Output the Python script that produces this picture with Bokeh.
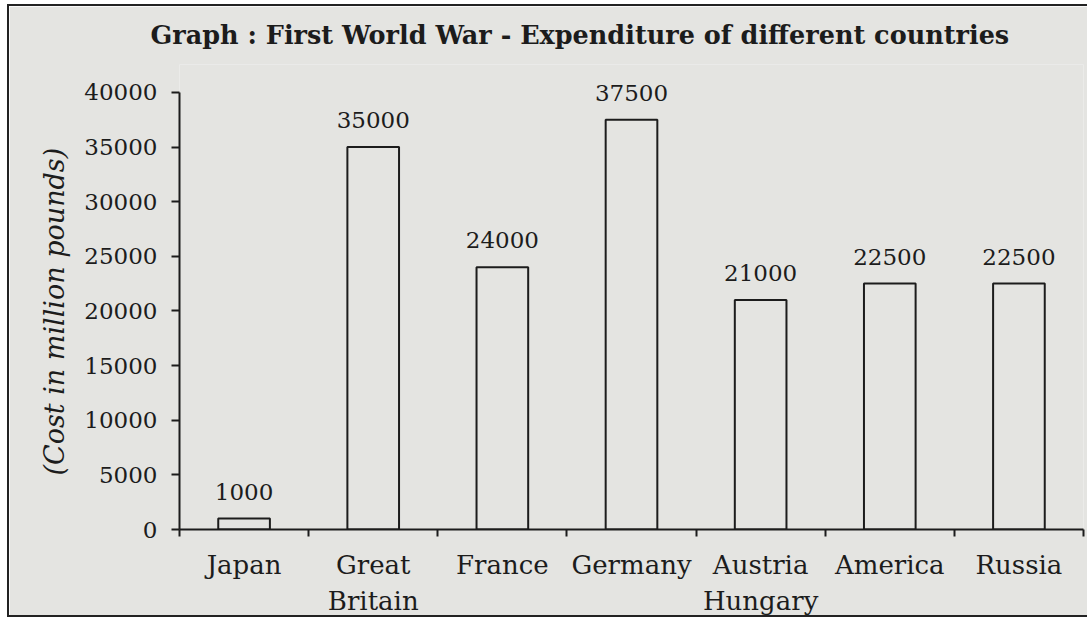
from bokeh.plotting import figure
from bokeh.models import ColumnDataSource, FixedTicker, Range1d, LabelSet, Title
from bokeh.core.properties import value
from bokeh.embed import file_html
from bokeh.resources import INLINE

countries = ["Japan", "Great\nBritain", "France", "Germany", "Austria\nHungary", "America", "Russia"]
costs = [1000, 35000, 24000, 37500, 21000, 22500, 22500]
value_labels = [str(c) for c in costs]
y_ticks = [0, 5000, 10000, 15000, 20000, 25000, 30000, 35000, 40000]
title_text = "Graph : First World War - Expenditure of different countries"
y_title = "(Cost in million pounds)"

BG = "#e4e4e1"
INK = "#1c1c1c"
FONT = "DejaVu Serif"

n = len(countries)
y_max = y_ticks[-1]
centers = [i + 0.5 for i in range(n)]
src = ColumnDataSource(dict(x=centers, top=costs, lbl=value_labels))

# frame reaches a little above 40000 so the value labels are not clipped;
# the y axis itself is bounded to 0..40000
p = figure(width=1080, height=613, output_backend="svg", toolbar_location=None,
           x_range=Range1d(0, n), y_range=Range1d(0, y_max * 1.0638),
           min_border_left=170, min_border_right=6, min_border_top=56, min_border_bottom=90)
p.background_fill_color = BG
p.border_fill_color = BG
p.outline_line_color = None
p.grid.grid_line_color = None

p.title.text = title_text
p.title.align = "left"
p.title.vertical_align = "top"
p.title.offset = -29
p.title.standoff = 26
p.title.text_font = FONT
p.title.text_font_style = "bold"
p.title.text_font_size = "25.5px"
p.title.text_color = INK

p.vbar(x="x", top="top", bottom=0, width=0.4, source=src,
       fill_color=BG, line_color=INK, line_width=2)
p.add_layout(LabelSet(x="x", y="top", text="lbl", source=src, text_align="center",
                      text_baseline="alphabetic", y_offset=19, text_font=value(FONT),
                      text_font_size="23px", text_color=INK))

# x axis
xa = p.xaxis[0]
xa.ticker = FixedTicker(ticks=centers, minor_ticks=list(range(n + 1)))
xa.major_label_overrides = {c: name for c, name in zip(centers, countries)}
xa.major_tick_line_color = None
xa.minor_tick_line_color = INK
xa.minor_tick_line_width = 2
xa.minor_tick_out = 7
xa.minor_tick_in = 0
xa.axis_line_color = INK
xa.axis_line_width = 2
xa.major_label_text_font = FONT
xa.major_label_text_font_size = "26px"
xa.major_label_text_color = INK
xa.major_label_standoff = 13

# y axis
ya = p.yaxis[0]
ya.bounds = (0, y_max)
ya.ticker = FixedTicker(ticks=y_ticks, minor_ticks=[])
ya.major_label_overrides = {t: str(t) for t in y_ticks}
ya.major_tick_line_color = INK
ya.major_tick_line_width = 2
ya.major_tick_out = 8
ya.major_tick_in = 0
ya.axis_line_color = INK
ya.axis_line_width = 2
ya.major_label_text_font = FONT
ya.major_label_text_font_size = "23px"
ya.major_label_text_color = INK
ya.major_label_standoff = 14

# y axis title
p.add_layout(Title(text=y_title, align="left", offset=54, standoff=24, text_font=FONT,
                   text_font_style="italic", text_font_size="27px", text_color=INK), "left")

p.styles = {"margin-left": "7px", "margin-top": "4px",
            "border-left": "2px solid #222", "border-top": "2px solid #222",
            "border-bottom": "2px solid #222"}

open("out.html", "w").write(file_html(p, INLINE))
